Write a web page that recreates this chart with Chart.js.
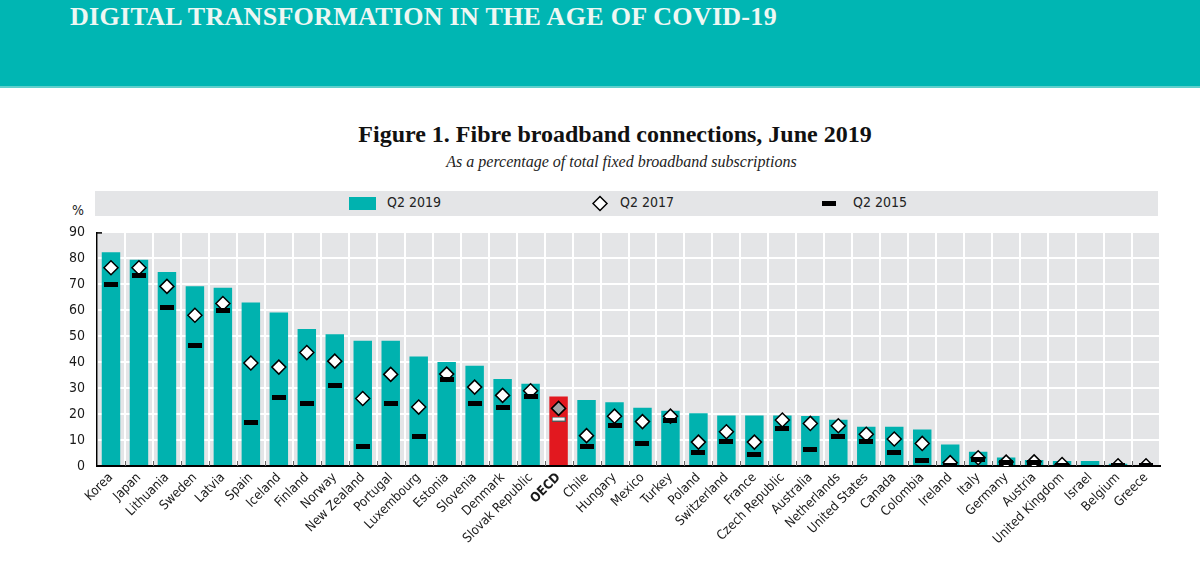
<!DOCTYPE html>
<html>
<head>
<meta charset="utf-8">
<script src="https://cdn.jsdelivr.net/npm/chart.js@4/dist/chart.umd.min.js"></script>
<style>
  body { margin: 0; width: 1200px; height: 564px; background: #fff; position: relative; overflow: hidden; }
  .banner { position: absolute; left: 0; top: 0; width: 1200px; height: 86px; background: #00b6b3; border-bottom: 2px solid #5fd0cc; }
  .banner h1 { position: absolute; left: 70px; top: 2px; margin: 0; font: bold 26px 'Liberation Serif', 'DejaVu Serif', serif; color: #eef7f3; letter-spacing: 0.3px; }
  .fig-title { position: absolute; left: 0; width: 1230px; top: 121px; text-align: center; font: bold 24px 'Liberation Serif', 'DejaVu Serif', serif; color: #111; }
  .fig-sub { position: absolute; left: 0; width: 1243px; top: 153px; text-align: center; font: italic 16px 'Liberation Serif', 'DejaVu Serif', serif; color: #222; }
  .legend { position: absolute; left: 95px; top: 191px; width: 1063px; height: 25px; background: #e4e5e7; }
  .legend .item { position: absolute; top: 3px; height: 25px; line-height: 25px; font: 14px 'Liberation Sans Narrow', 'DejaVu Sans Condensed', sans-serif; color: #222; }
  .legend canvas { position: absolute; top: 0; }
  .pct { position: absolute; left: 72px; top: 202px; font: 14px 'Liberation Sans Narrow', 'DejaVu Sans Condensed', sans-serif; color: #222; }
  #chart { position: absolute; left: 0; top: 212px; }
</style>
</head>
<body>
<div class="banner"><h1>DIGITAL TRANSFORMATION IN THE AGE OF COVID-19</h1></div>
<div class="fig-title">Figure 1. Fibre broadband connections, June 2019</div>
<div class="fig-sub">As a percentage of total fixed broadband subscriptions</div>
<div class="legend" id="legend"></div>
<div class="pct">%</div>
<canvas id="chart" width="1200" height="352"></canvas>
<script>
// Data
const countries = ['Korea', 'Japan', 'Lithuania', 'Sweden', 'Latvia', 'Spain', 'Iceland', 'Finland', 'Norway',
  'New Zealand', 'Portugal', 'Luxembourg', 'Estonia', 'Slovenia', 'Denmark', 'Slovak Republic', 'OECD',
  'Chile', 'Hungary', 'Mexico', 'Turkey', 'Poland', 'Switzerland', 'France', 'Czech Republic', 'Australia',
  'Netherlands', 'United States', 'Canada', 'Colombia', 'Ireland', 'Italy', 'Germany', 'Austria',
  'United Kingdom', 'Israel', 'Belgium', 'Greece'];

const q2_2019 = [82.4, 79.5, 74.7, 69.3, 68.7, 63.0, 59.1, 52.8, 50.8, 48.3, 48.3, 42.2, 40.1, 38.6, 33.5, 31.7, 26.8,
  25.4, 24.6, 22.4, 21.3, 20.3, 19.5, 19.5, 19.5, 19.3, 17.8, 15.1, 15.1, 14.1, 8.3, 5.5, 3.3, 2.3, 1.9, 1.9, 0.9, 0.4];

const q2_2017 = [76.4, 76.4, 69.2, 58.1, 62.6, 39.7, 38.1, 43.7, 40.4, 26.0, 35.3, 22.7, 35.4, 30.4, 27.2, 29.0, 22.2,
  11.7, 19.2, 17.1, 19.2, 9.2, 13.2, 9.2, 17.7, 16.4, 15.5, 12.2, 10.4, 8.7, 1.3, 3.2, 1.5, 1.6, 0.6, null, 0.1, 0.1];

const q2_2015 = [70.0, 73.3, 61.2, 46.3, 60.1, 16.8, 26.3, 24.0, 31.2, 7.4, 24.0, 11.3, 33.5, 24.0, 22.4, 26.9, 18.1,
  7.4, 15.6, 8.5, 17.4, 5.1, 9.5, 4.6, 14.5, 6.2, 11.3, 9.6, 5.1, 2.3, 0.3, 2.6, 1.3, 1.3, 0.2, null, 0.1, 0.1];

const yTicks = [0, 10, 20, 30, 40, 50, 60, 70, 80, 90];

const TEAL = '#00b2af';
const RED = '#e2181f';
const GRID_BG = '#e4e5e7';
const FONT = "'Liberation Sans Narrow', 'DejaVu Sans Condensed', sans-serif";

// small dash images used as point styles
function makeDash(fill, stroke) {
  const c = document.createElement('canvas');
  c.width = 14; c.height = 5;
  const g = c.getContext('2d');
  g.fillStyle = fill;
  g.fillRect(0, 0, 14, 5);
  if (stroke) {
    g.strokeStyle = stroke;
    g.lineWidth = 1;
    g.strokeRect(0.5, 0.5, 13, 4);
  }
  return c;
}
const blackDash = makeDash('#000');
const oecdDash = makeDash('#f4f4f4', '#555');

const isOecd = i => countries[i] === 'OECD';

// plot background
const plotBackground = {
  id: 'plotBackground',
  beforeDraw(chart) {
    const a = chart.chartArea;
    const ctx = chart.ctx;
    ctx.save();
    ctx.fillStyle = GRID_BG;
    ctx.fillRect(a.left, a.top, a.right - a.left, a.bottom - a.top);
    ctx.restore();
  }
};

// short marks above the baseline at category boundaries + top tick of y axis
const axisMarks = {
  id: 'axisMarks',
  afterDatasetsDraw(chart) {
    const x = chart.scales.x;
    const y = chart.scales.y;
    const ctx = chart.ctx;
    ctx.save();
    ctx.strokeStyle = '#666';
    ctx.lineWidth = 1;
    const half = (x.getPixelForValue(1) - x.getPixelForValue(0)) / 2;
    for (let i = 1; i < countries.length; i++) {
      const px = Math.round(x.getPixelForValue(i) - half) + 0.5;
      ctx.beginPath();
      ctx.moveTo(px, y.bottom);
      ctx.lineTo(px, y.bottom - 5);
      ctx.stroke();
    }
    ctx.strokeStyle = '#000';
    ctx.lineWidth = 1.5;
    ctx.beginPath();
    ctx.moveTo(x.left, y.top + 0.5);
    ctx.lineTo(x.left + 5, y.top + 0.5);
    ctx.stroke();
    ctx.restore();
  }
};

const chart = new Chart(document.getElementById('chart'), {
  type: 'bar',
  data: {
    labels: countries,
    datasets: [
      {
        label: 'Q2 2015',
        type: 'line',
        data: q2_2015,
        showLine: false,
        pointStyle: ctx => isOecd(ctx.dataIndex) ? oecdDash : blackDash,
        pointRadius: 7,
        order: 1
      },
      {
        label: 'Q2 2017',
        type: 'line',
        data: q2_2017,
        showLine: false,
        pointStyle: 'rectRot',
        pointRadius: 7,
        pointBorderWidth: 1.5,
        pointBorderColor: '#000',
        pointBackgroundColor: ctx => isOecd(ctx.dataIndex) ? '#a3a3a3' : '#fff',
        order: 2
      },
      {
        label: 'Q2 2019',
        data: q2_2019,
        backgroundColor: ctx => isOecd(ctx.dataIndex) ? RED : TEAL,
        barPercentage: 0.66,
        categoryPercentage: 1,
        order: 3
      }
    ]
  },
  options: {
    responsive: false,
    animation: false,
    layout: { padding: { top: 4, right: 40, left: 0, bottom: 0 } },
    plugins: {
      legend: { display: false },
      tooltip: { enabled: false }
    },
    scales: {
      x: {
        grid: { color: '#fff', lineWidth: 2, drawTicks: false, offset: true },
        border: { color: '#000', width: 2 },
        ticks: {
          autoSkip: false,
          minRotation: 45,
          maxRotation: 45,
          padding: 4,
          color: '#1a1a1a',
          font: ctx => ({ family: FONT, size: 13, weight: isOecd(ctx.index) ? 'bold' : 'normal' })
        },
        afterFit(scale) { scale.height = 98; }
      },
      y: {
        min: 0,
        max: 90,
        afterBuildTicks(scale) { scale.ticks = yTicks.map(v => ({ value: v })); },
        grid: { color: '#fff', lineWidth: 2, drawTicks: false },
        border: { color: '#000', width: 1.5 },
        ticks: { padding: 12, color: '#1a1a1a', font: { family: FONT, size: 14 } },
        afterFit(scale) { scale.width = 97; }
      }
    }
  },
  plugins: [plotBackground, axisMarks]
});

// legend band built from the datasets
function buildLegend() {
  const box = document.getElementById('legend');
  const byLabel = {};
  chart.data.datasets.forEach(d => { byLabel[d.label] = d; });
  const spots = [
    { label: 'Q2 2019', sym: 254, text: 292 },
    { label: 'Q2 2017', sym: 497, text: 525 },
    { label: 'Q2 2015', sym: 726, text: 758 }
  ];
  spots.forEach(s => {
    const c = document.createElement('canvas');
    c.width = 28; c.height = 25;
    c.style.left = s.sym + 'px';
    const g = c.getContext('2d');
    if (s.label === 'Q2 2019') {
      g.fillStyle = TEAL;
      g.fillRect(0, 6, 27, 13);
    } else if (s.label === 'Q2 2017') {
      g.fillStyle = '#fff';
      g.strokeStyle = '#000';
      g.lineWidth = 1.5;
      g.beginPath();
      g.moveTo(1, 12.5); g.lineTo(8, 5.5); g.lineTo(15, 12.5); g.lineTo(8, 19.5); g.closePath();
      g.fill(); g.stroke();
    } else {
      g.drawImage(blackDash, 1, 10);
    }
    box.appendChild(c);
    const t = document.createElement('div');
    t.className = 'item';
    t.style.left = s.text + 'px';
    t.textContent = byLabel[s.label].label;
    box.appendChild(t);
  });
}
buildLegend();
</script>
</body>
</html>
